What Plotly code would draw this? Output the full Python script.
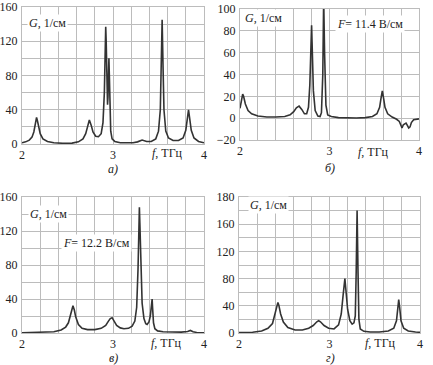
import plotly.graph_objects as go

W, H = 433, 365

# ---- data ----
a_x = [2.00, 2.04, 2.08, 2.11, 2.13, 2.14, 2.15, 2.16, 2.17, 2.18, 2.20, 2.23, 2.28, 2.35, 2.45, 2.55,
       2.62, 2.67, 2.70, 2.72, 2.74, 2.76, 2.78, 2.81, 2.84, 2.87, 2.89, 2.905, 2.915, 2.92, 2.925,
       2.935, 2.94, 2.945, 2.955, 2.96, 2.965, 2.975, 2.99, 3.02, 3.08, 3.15, 3.22, 3.27, 3.32, 3.37,
       3.42, 3.47, 3.50, 3.52, 3.53, 3.54, 3.55, 3.56, 3.58, 3.61, 3.66, 3.72, 3.77, 3.80, 3.82, 3.83,
       3.84, 3.86, 3.89, 3.94, 4.00]
a_y = [1.5, 2.5, 4.5, 8, 14, 20, 27, 31, 27, 21, 12, 6, 3, 1.5, 0.8, 1,
       2.5, 6, 12, 20, 28, 22, 14, 9, 8.5, 12, 25, 60, 120, 137, 120,
       60, 46, 55, 100, 80, 40, 15, 6, 3, 1.5, 1.2, 1.5, 2.5, 4.7, 3,
       3, 6, 15, 40, 90, 145, 90, 40, 15, 7, 4, 4, 7, 16, 32, 40,
       32, 16, 7, 3, 1.5]

b_x = [2.00, 2.01, 2.02, 2.03, 2.04, 2.06, 2.09, 2.13, 2.20, 2.30, 2.40, 2.50, 2.56, 2.60, 2.63,
       2.66, 2.69, 2.72, 2.745, 2.765, 2.78, 2.795, 2.80, 2.805, 2.82, 2.84, 2.87, 2.895, 2.91,
       2.925, 2.935, 2.945, 2.96, 2.98, 3.02, 3.10, 3.20, 3.30, 3.40, 3.48, 3.53, 3.56, 3.575,
       3.59, 3.605, 3.62, 3.65, 3.70, 3.75, 3.78, 3.80, 3.81, 3.825, 3.845, 3.855, 3.865, 3.885,
       3.90, 3.915, 3.94, 3.97, 4.00]
b_y = [9, 15, 20, 22, 20, 13, 7, 4, 2, 1, 1, 1.5, 3, 6, 9.5,
       11, 8, 4, 4, 10, 30, 70, 85, 70, 25, 7, 2, 1.5, 5,
       40, 110, 60, 12, 3, 1.5, 0.5, 0.2, 0.2, 0.5, 1.5, 4, 10, 18,
       25, 18, 10, 4, 1, -1, -3, -7, -9, -6, -4.5, -4.5, -6, -9,
       -8, -4, -1.5, -0.8, -0.6]

c_x = [2.00, 2.20, 2.35, 2.43, 2.48, 2.51, 2.53, 2.545, 2.56, 2.575, 2.59, 2.62, 2.66, 2.72, 2.80,
       2.87, 2.92, 2.95, 2.97, 2.99, 3.01, 3.04, 3.08, 3.12, 3.17, 3.21, 3.24, 3.26, 3.275, 3.285,
       3.29, 3.295, 3.305, 3.32, 3.34, 3.36, 3.375, 3.395, 3.41, 3.425, 3.43, 3.435, 3.445, 3.46,
       3.49, 3.55, 3.65, 3.75, 3.82, 3.85, 3.88, 3.92, 4.00]
c_y = [0.3, 0.5, 1.5, 3.5, 7, 12, 20, 28, 32, 27, 19, 10, 5.5, 4, 4,
       5.5, 9, 14, 17, 18, 15, 9, 6, 5, 5.5, 8, 14, 30, 75, 130,
       148, 130, 80, 35, 17, 11, 10, 13, 20, 35, 40, 30, 12, 5,
       2.5, 1.5, 1, 1, 1.8, 3, 1.5, 0.6, 0.3]

d_x = [2.00, 2.15, 2.25, 2.32, 2.37, 2.40, 2.42, 2.43, 2.44, 2.46, 2.49, 2.54, 2.62, 2.70, 2.77,
       2.82, 2.86, 2.88, 2.90, 2.94, 2.99, 3.05, 3.10, 3.13, 3.15, 3.165, 3.17, 3.18, 3.20, 3.225,
       3.25, 3.27, 3.285, 3.295, 3.305, 3.315, 3.325, 3.34, 3.38, 3.45, 3.55, 3.65, 3.71, 3.74,
       3.755, 3.765, 3.775, 3.79, 3.82, 3.87, 3.95, 4.00]
d_y = [0.5, 1.2, 3, 7, 14, 28, 41, 45, 41, 28, 16, 8, 4.5, 4.5, 7,
       11, 16.5, 18, 16.5, 11, 7, 6, 12, 28, 55, 78, 80, 65, 35, 18,
       13, 15, 25, 90, 180, 90, 20, 6, 2.5, 1.5, 1.5, 3, 7, 18,
       38, 49, 38, 18, 7, 3, 1.5, 1]

x_ticks = [2, 3, 4]
a_yticks = [0, 40, 80, 120, 160]
b_yticks = [-20, 0, 20, 40, 60, 80, 100]
c_yticks = [0, 40, 80, 120, 160]
d_yticks = [0, 40, 80, 120, 160, 200]
d_yticktext = ["0", "40", "80", "120", "160", "180"]

panel_letters = ["а)", "б)", "в)", "г)"]
g_label = "<i>G</i>, 1/см"
f_label = "<i>f</i>, ТГц"
b_field = "<i>F</i>= 11.4 В/см"
c_field = "<i>F</i>= 12.2 В/см"

# ---- layout geometry (pixels) ----
boxes = {
    1: (22, 204, 7, 144),
    2: (240, 419, 9, 140),
    3: (22, 204, 197, 333),
    4: (239, 420, 197, 333),
}

def xd(l, r):
    return [l / W, r / W]

def yd(t, b):
    return [1 - b / H, 1 - t / H]

FONT = "'Liberation Serif', 'Times New Roman', 'DejaVu Serif', serif"
GRID = "#bcbcbc"
LINE = "#333333"
FS = 12

fig = go.Figure()
series = [(a_x, a_y), (b_x, b_y), (c_x, c_y), (d_x, d_y)]
for i, (xs, ys) in enumerate(series, start=1):
    fig.add_trace(go.Scatter(
        x=xs, y=ys, mode="lines",
        line=dict(color=LINE, width=1.6),
        xaxis="x" if i == 1 else f"x{i}",
        yaxis="y" if i == 1 else f"y{i}",
        showlegend=False, hoverinfo="skip"))

yinfo = {
    1: dict(range=[0, 160], tickvals=a_yticks, minor=20),
    2: dict(range=[-20, 100], tickvals=b_yticks, minor=None),
    3: dict(range=[0, 160], tickvals=c_yticks, minor=20),
    4: dict(range=[0, 200], tickvals=d_yticks, ticktext=d_yticktext, minor=20),
}

layout = dict(
    width=W, height=H,
    margin=dict(l=0, r=0, t=0, b=0, autoexpand=False),
    paper_bgcolor="white", plot_bgcolor="white",
    font=dict(family=FONT, size=FS, color="#222"),
    showlegend=False,
)

for i in range(1, 5):
    l, r, t, b = boxes[i]
    xname = "xaxis" if i == 1 else f"xaxis{i}"
    yname = "yaxis" if i == 1 else f"yaxis{i}"
    xid = "x" if i == 1 else f"x{i}"
    yid = "y" if i == 1 else f"y{i}"
    layout[xname] = dict(
        domain=xd(l, r), anchor=yid, range=[2, 4], automargin=False,
        tickmode="array", tickvals=x_ticks, ticks="",
        showgrid=True, gridcolor=GRID, gridwidth=1,
        minor=dict(tickmode="linear", dtick=0.2, tick0=2, showgrid=True, gridcolor=GRID, gridwidth=1),
        showline=True, linecolor=GRID, linewidth=1, mirror=True, zeroline=False,
        tickfont=dict(family=FONT, size=FS, color="#222"), ticklabelstandoff=0,
    )
    yi = yinfo[i]
    yax = dict(
        domain=yd(t, b), anchor=xid, range=yi["range"], automargin=False,
        tickmode="array", tickvals=yi["tickvals"], ticks="",
        showgrid=True, gridcolor=GRID, gridwidth=1,
        showline=True, linecolor=GRID, linewidth=1, mirror=True, zeroline=False,
        tickfont=dict(family=FONT, size=FS, color="#222"), ticklabelstandoff=1,
    )
    if "ticktext" in yi:
        yax["ticktext"] = yi["ticktext"]
    if yi["minor"]:
        yax["minor"] = dict(tickmode="linear", dtick=yi["minor"], tick0=0, showgrid=True,
                            gridcolor=GRID, gridwidth=1)
    layout[yname] = yax

fig.update_layout(**layout)

def ann(text, px, py, xanchor="left", bg=None, size=FS):
    d = dict(text=text, x=px / W, y=1 - py / H, xref="paper", yref="paper",
             xanchor=xanchor, yanchor="middle", showarrow=False,
             font=dict(family=FONT, size=size, color="#222"))
    if bg:
        d["bgcolor"] = bg
        d["borderpad"] = 1
    fig.add_annotation(**d)

# G labels
ann(g_label, 27, 23, bg="white")
ann(g_label, 243, 18, bg="white")
ann(g_label, 28, 214, bg="white")
ann(g_label, 248, 205, bg="white")
# F field labels
ann(b_field, 335, 24, bg="white")
ann(c_field, 61, 243, bg="white")
# f axis labels
ann(f_label, 167, 153, xanchor="center")
ann(f_label, 373, 152, xanchor="center")
ann(f_label, 166, 343, xanchor="center")
ann(f_label, 380, 343, xanchor="center")
# panel letters
ann("<i>" + panel_letters[0] + "</i>", 113, 169, xanchor="center")
ann("<i>" + panel_letters[1] + "</i>", 330, 168, xanchor="center")
ann("<i>" + panel_letters[2] + "</i>", 113, 358, xanchor="center")
ann("<i>" + panel_letters[3] + "</i>", 330, 358, xanchor="center")

fig.write_html(
    "out.html",
    config={"displayModeBar": False},
    post_script="document.body.style.margin='0';document.body.style.padding='0';",
)
